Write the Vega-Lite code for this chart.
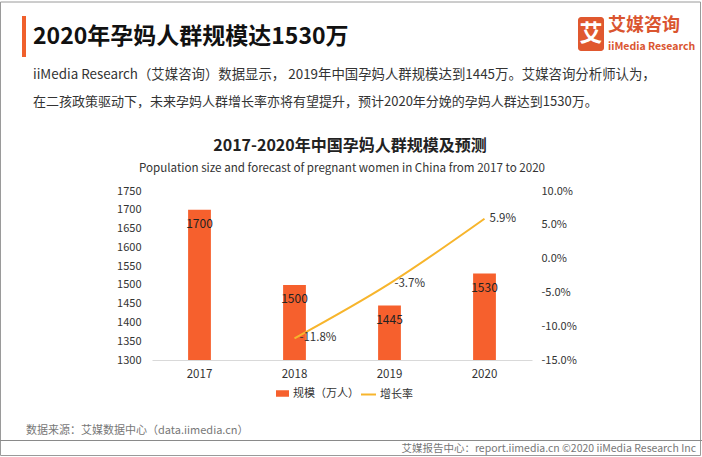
{
  "$schema": "https://vega.github.io/schema/vega-lite/v6.json",
  "width": 380,
  "height": 169,
  "autosize": {"type": "none"},
  "padding": {"left": 152, "top": 191, "right": 170, "bottom": 97},
  "background": "white",
  "config": {
    "view": {"stroke": null},
    "font": "Noto Sans CJK SC",
    "text": {"font": "Noto Sans CJK SC"}
  },
  "datasets": {
    "main": [
      {"year": "2017", "size": 1700, "growth": null},
      {"year": "2018", "size": 1500, "growth": -11.8},
      {"year": "2019", "size": 1445, "growth": -3.7},
      {"year": "2020", "size": 1530, "growth": 5.9}
    ],
    "one": [{}]
  },
  "layer": [
    {
      "data": {"name": "one"},
      "mark": {"type": "rect", "fill": null, "stroke": "#9a9a9a", "strokeWidth": 1},
      "encoding": {"x": {"value": -151.5}, "x2": {"value": 548.5}, "y": {"value": -189}, "y2": {"value": 264.5}}
    },
    {
      "data": {"name": "one"},
      "mark": {"type": "rect", "fill": "#F0602C"},
      "encoding": {"x": {"value": -130}, "x2": {"value": -126}, "y": {"value": -175}, "y2": {"value": -134}}
    },
    {
      "data": {"name": "one"},
      "mark": {"type": "text", "text": "2020年孕妈人群规模达1530万", "align": "left", "baseline": "middle", "fontSize": 23, "fontWeight": "bold", "fill": "#111111"},
      "encoding": {"x": {"value": -119}, "y": {"value": -154}}
    },
    {
      "data": {"name": "one"},
      "mark": {"type": "rect", "fill": "#E0582F", "cornerRadius": 3},
      "encoding": {"x": {"value": 426}, "x2": {"value": 452}, "y": {"value": -174}, "y2": {"value": -140}}
    },
    {
      "data": {"name": "one"},
      "mark": {"type": "text", "text": "艾", "align": "center", "baseline": "middle", "fontSize": 23, "fontWeight": "bold", "fill": "white"},
      "encoding": {"x": {"value": 439}, "y": {"value": -157}}
    },
    {
      "data": {"name": "one"},
      "mark": {"type": "text", "text": "艾媒咨询", "align": "left", "baseline": "middle", "fontSize": 18, "fontWeight": "bold", "fill": "#DA5530"},
      "encoding": {"x": {"value": 456}, "y": {"value": -165}}
    },
    {
      "data": {"name": "one"},
      "mark": {"type": "text", "text": "iiMedia Research", "align": "left", "baseline": "middle", "fontSize": 10.5, "fontWeight": "bold", "fill": "#DA5530"},
      "encoding": {"x": {"value": 456}, "y": {"value": -144}}
    },
    {
      "data": {"name": "one"},
      "mark": {"type": "text", "text": "iiMedia  Research（艾媒咨询）数据显示，  2019年中国孕妈人群规模达到1445万。艾媒咨询分析师认为，", "align": "left", "baseline": "middle", "fontSize": 13.4, "fill": "#333333"},
      "encoding": {"x": {"value": -119}, "y": {"value": -116}}
    },
    {
      "data": {"name": "one"},
      "mark": {"type": "text", "text": "在二孩政策驱动下，未来孕妈人群增长率亦将有望提升，预计2020年分娩的孕妈人群达到1530万。", "align": "left", "baseline": "middle", "fontSize": 13, "fill": "#333333"},
      "encoding": {"x": {"value": -119}, "y": {"value": -89}}
    },
    {
      "data": {"name": "one"},
      "mark": {"type": "text", "text": "2017-2020年中国孕妈人群规模及预测", "align": "center", "baseline": "middle", "fontSize": 16, "fontWeight": "bold", "fill": "#222222"},
      "encoding": {"x": {"value": 198}, "y": {"value": -45}}
    },
    {
      "data": {"name": "one"},
      "mark": {"type": "text", "text": "Population size and forecast of pregnant  women in China from 2017 to 2020", "align": "center", "baseline": "middle", "fontSize": 11.6, "fill": "#333333"},
      "encoding": {"x": {"value": 190}, "y": {"value": -22}}
    },
    {
      "data": {"name": "one"},
      "mark": {"type": "text", "text": "数据来源：艾媒数据中心（data.iimedia.cn）", "align": "left", "baseline": "middle", "fontSize": 11, "fill": "#777777"},
      "encoding": {"x": {"value": -126}, "y": {"value": 240}}
    },
    {
      "data": {"name": "one"},
      "mark": {"type": "rule", "stroke": "#8a8a8a", "strokeWidth": 1},
      "encoding": {"x": {"value": -152}, "x2": {"value": 550}, "y": {"value": 249.5}}
    },
    {
      "data": {"name": "one"},
      "mark": {"type": "text", "text": "艾媒报告中心：report.iimedia.cn   ©2020  iiMedia Research  Inc", "align": "right", "baseline": "middle", "fontSize": 10.5, "fill": "#777777"},
      "encoding": {"x": {"value": 544}, "y": {"value": 258}}
    },
    {
      "data": {"name": "main"},
      "encoding": {
        "x": {
          "field": "year", "type": "nominal",
          "scale": {"paddingInner": 0.76, "paddingOuter": 0.38},
          "axis": {"title": null, "labelAngle": 0, "ticks": false, "domain": true, "domainColor": "#d9d9d9", "labelPadding": 8, "labelFontSize": 11.5, "labelColor": "#333333", "labelFont": "Noto Sans CJK SC"}
        },
        "y": {
          "field": "size", "type": "quantitative",
          "scale": {"domain": [1300, 1750], "zero": false, "nice": false},
          "axis": {"title": null, "orient": "left", "values": [1300, 1350, 1400, 1450, 1500, 1550, 1600, 1650, 1700, 1750], "format": "d", "labelOverlap": false, "labelFlush": false, "domain": false, "ticks": false, "grid": false, "labelPadding": 11, "labelFontSize": 11, "labelColor": "#333333", "labelFont": "Noto Sans CJK SC"}
        }
      },
      "layer": [
        {
          "mark": {"type": "bar"},
          "encoding": {
            "y2": {"datum": 1300},
            "color": {
              "datum": "规模（万人）",
              "scale": {"range": ["#F6602D"]},
              "legend": {"title": null, "orient": "none", "legendX": 123, "legendY": 195, "symbolType": "M-1,-0.5H1V0.5H-1Z", "symbolSize": 169, "labelFontSize": 11, "labelColor": "#333333", "labelFont": "Noto Sans CJK SC", "labelOffset": 3}
            }
          }
        },
        {
          "mark": {"type": "text", "baseline": "middle", "dy": 14, "fontSize": 12, "fill": "#222222"},
          "encoding": {
            "text": {"field": "size", "type": "quantitative", "format": "d"}
          }
        }
      ]
    },
    {
      "data": {"name": "main"},
      "transform": [
        {"filter": "datum.growth != null"},
        {"calculate": "(datum.growth < 0 ? '-' : '') + format(abs(datum.growth), '.1f') + '%'", "as": "label"}
      ],
      "encoding": {
        "x": {"field": "year", "type": "nominal"},
        "y": {
          "field": "growth", "type": "quantitative",
          "scale": {"domain": [-15, 10], "zero": false, "nice": false},
          "axis": {"title": null, "orient": "right", "values": [-15, -10, -5, 0, 5, 10], "labelOverlap": false, "labelFlush": false, "labelExpr": "(datum.value < 0 ? '-' : '') + format(abs(datum.value), '.1f') + '%'", "domain": false, "ticks": false, "grid": false, "labelPadding": 9, "labelFontSize": 11, "labelColor": "#333333", "labelFont": "Noto Sans CJK SC"}
        }
      },
      "layer": [
        {
          "mark": {"type": "line", "interpolate": "monotone", "strokeWidth": 2},
          "encoding": {
            "stroke": {
              "datum": "增长率",
              "scale": {"range": ["#F7B52C"]},
              "legend": {"title": null, "orient": "none", "legendX": 208, "legendY": 195, "symbolType": "stroke", "symbolSize": 225, "symbolStrokeWidth": 2, "labelFontSize": 11, "labelColor": "#333333", "labelFont": "Noto Sans CJK SC", "labelOffset": 3}
            }
          }
        },
        {
          "mark": {"type": "text", "align": "left", "baseline": "middle", "dx": 5, "fontSize": 11.5, "fill": "#333333"},
          "encoding": {
            "text": {"field": "label", "type": "nominal"}
          }
        }
      ]
    }
  ],
  "resolve": {"scale": {"y": "independent"}}
}
